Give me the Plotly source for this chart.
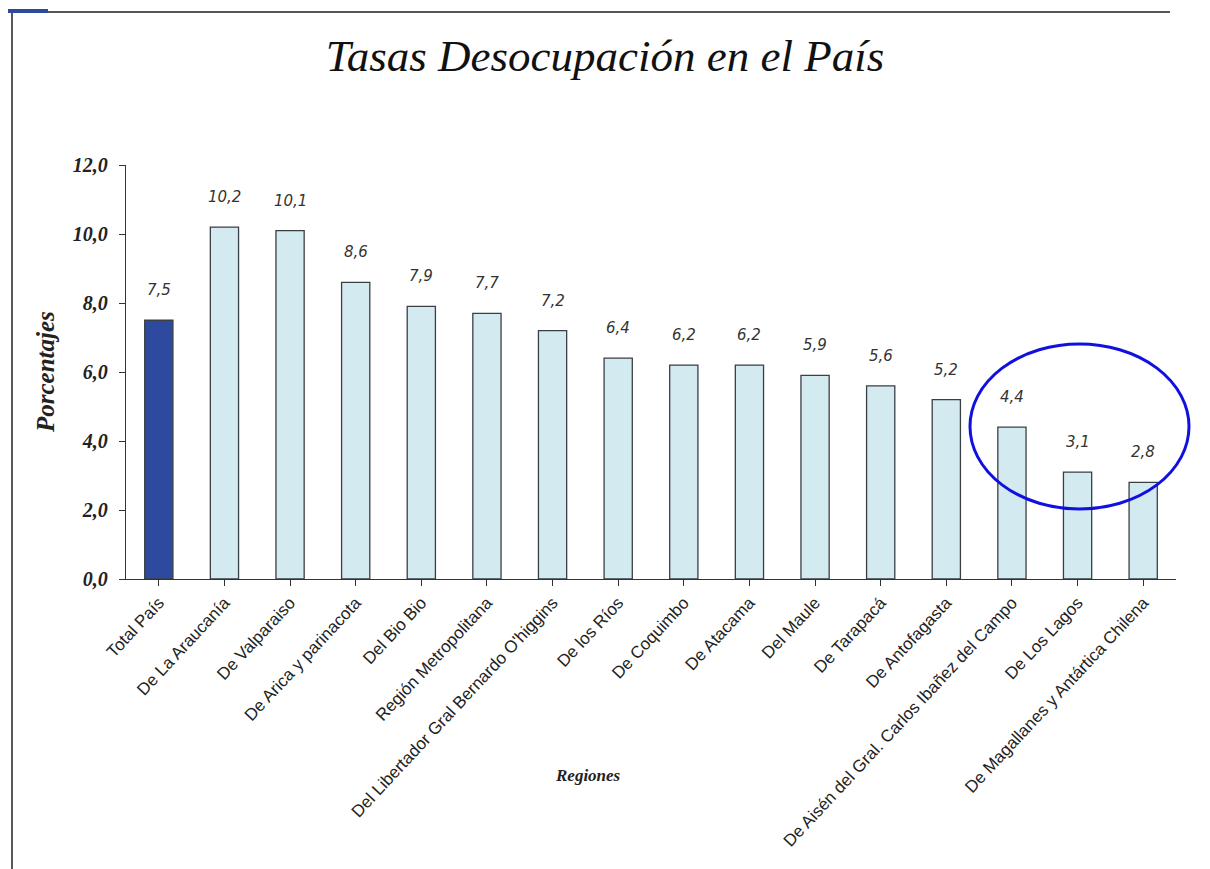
import plotly.graph_objects as go

categories = ["Total País", "De La Araucanía", "De Valparaiso", "De Arica y parinacota",
              "Del Bio Bio", "Región Metropolitana", "Del Libertador Gral Bernardo O'higgins",
              "De los Ríos", "De Coquimbo", "De Atacama", "Del Maule", "De Tarapacá",
              "De Antofagasta", "De Aisén del Gral. Carlos Ibañez del Campo", "De Los Lagos",
              "De Magallanes y Antártica Chilena"]
values = [7.5, 10.2, 10.1, 8.6, 7.9, 7.7, 7.2, 6.4, 6.2, 6.2, 5.9, 5.6, 5.2, 4.4, 3.1, 2.8]
value_labels = ["7,5", "10,2", "10,1", "8,6", "7,9", "7,7", "7,2", "6,4", "6,2", "6,2",
                "5,9", "5,6", "5,2", "4,4", "3,1", "2,8"]
y_ticks = [0, 2, 4, 6, 8, 10, 12]
y_tick_labels = ["0,0", "2,0", "4,0", "6,0", "8,0", "10,0", "12,0"]

colors = ["#2E4A9E"] + ["#D3EAF0"] * (len(categories) - 1)

# page offset of 8px (body margin)
OFF = 8
SW, SH = 1210, 869
W, H = SW - OFF, SH - OFF
PL, PR, PT, PB = 126, 1176, 165, 579  # plot area in screen px
pw, ph = PR - PL, PB - PT


def px(x):
    return (x - PL) / pw


def py(y):
    return (PB - y) / ph


fig = go.Figure()
fig.add_trace(go.Bar(
    x=list(range(len(categories))), y=values,
    marker=dict(color=colors, line=dict(color="#3A3F44", width=1.3)),
    width=0.43, hoverinfo="skip",
))

annotations = []
for i, (v, lab) in enumerate(zip(values, value_labels)):
    annotations.append(dict(x=i, y=v, xref="x", yref="y", text="<i>" + lab + "</i>",
                            showarrow=False, yshift=30,
                            font=dict(family="DejaVu Sans", size=15, color="#333333")))

annotations.append(dict(x=px(45), y=py(372), xref="paper", yref="paper",
                        xanchor="center", yanchor="middle",
                        text="<b><i>Porcentajes</i></b>", showarrow=False, textangle=-90,
                        font=dict(family="Liberation Serif", size=25, color="#222222")))
annotations.append(dict(x=px(588), y=py(775), xref="paper", yref="paper",
                        xanchor="center", yanchor="middle",
                        text="<b><i>Regiones</i></b>", showarrow=False,
                        font=dict(family="Liberation Serif", size=17, color="#222222")))

shapes = [
    dict(type="line", xref="paper", yref="paper", x0=px(12), x1=px(12), y0=py(12), y1=py(875),
         line=dict(color="#222222", width=1.5)),
    dict(type="line", xref="paper", yref="paper", x0=px(0), x1=px(1170), y0=py(12), y1=py(12),
         line=dict(color="#555555", width=2)),
    dict(type="line", xref="paper", yref="paper", x0=px(0), x1=px(48), y0=py(11), y1=py(11),
         line=dict(color="#2E4A9E", width=4)),
    dict(type="circle", xref="paper", yref="paper", x0=px(970), x1=px(1189),
         y0=py(509), y1=py(344), line=dict(color="#1010E0", width=3)),
]

fig.update_layout(
    width=W, height=H,
    margin=dict(l=PL - OFF, r=SW - PR, t=PT - OFF, b=SH - PB),
    paper_bgcolor="white", plot_bgcolor="white",
    showlegend=False,
    title=dict(text="<i>Tasas Desocupación en el País</i>", x=px(605), xref="paper",
               y=1 - (55 - OFF) / H, yref="container", yanchor="middle", xanchor="center",
               font=dict(family="Liberation Serif", size=45, color="#111111")),
    xaxis=dict(range=[-0.5, len(categories) - 0.5], tickmode="array",
               tickvals=list(range(len(categories))), ticktext=categories,
               tickangle=-47, showline=True, linecolor="#333333", linewidth=1.3,
               ticks="outside", ticklen=6, tickcolor="#333333", showgrid=False,
               tickfont=dict(family="Liberation Sans", size=17, color="#222222")),
    yaxis=dict(range=[0, 12], tickmode="array", tickvals=y_ticks,
               ticktext=["<b><i>" + t + "</i></b>" for t in y_tick_labels],
               showline=True, linecolor="#333333", linewidth=1.3, ticks="outside",
               ticklen=6, tickcolor="#333333", showgrid=False, zeroline=False,
               ticklabelstandoff=7,
               tickfont=dict(family="Liberation Serif", size=20, color="#222222")),
    annotations=annotations,
    shapes=shapes,
)

fig.write_html("out.html")
